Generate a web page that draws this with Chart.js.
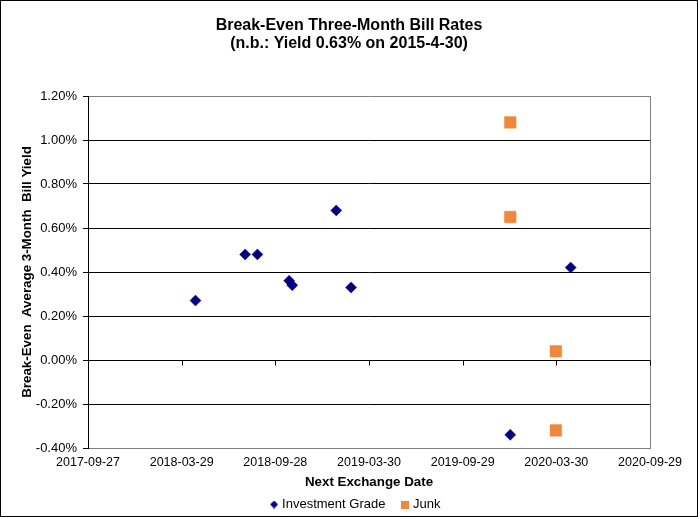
<!DOCTYPE html>
<html>
<head>
<meta charset="utf-8">
<script src="https://cdn.jsdelivr.net/npm/chart.js@4.4.1/dist/chart.umd.min.js"></script>
<style>
  html, body { margin: 0; padding: 0; background: #fff; }
  #chart { position: absolute; left: 0; top: 0; display: block; }
  #frame { position: absolute; left: 0; top: 0; width: 698px; height: 517px;
           box-sizing: border-box; border: 1px solid #000; pointer-events: none; }
</style>
</head>
<body>
<canvas id="chart" width="698" height="517"></canvas>
<div id="frame"></div>
<script>
/* ---------- DATA ---------- */
const firstTickDate = "2017-09-27";
const tickStepDays = 183;
const tickSteps = 6;

const investDates = ["2018-04-25", "2018-07-31", "2018-08-24", "2018-10-25", "2018-10-31",
                     "2019-01-25", "2019-02-23", "2019-12-31", "2020-04-27"];
const investYields = [0.27, 0.48, 0.48, 0.36, 0.34, 0.68, 0.33, -0.34, 0.42];

const junkDates = ["2019-12-31", "2019-12-31", "2020-03-29", "2020-03-29"];
const junkYields = [1.08, 0.65, 0.04, -0.32];

const yMin = -0.4;
const yMax = 1.2;
const yStep = 0.2;

const titleLines = ["Break-Even Three-Month Bill Rates", "(n.b.: Yield 0.63% on 2015-4-30)"];
const seriesNames = ["Investment Grade", "Junk"];

/* ---------- HELPERS ---------- */
const DAY = 86400000;
const baseTime = Date.parse(firstTickDate);
const toDays = d => Math.round((Date.parse(d) - baseTime) / DAY);
const fmtDay = v => new Date(baseTime + v * DAY).toISOString().slice(0, 10);

const navy = "#000080";
const orange = "#F0883A";
const font = "'Liberation Sans', Arial, sans-serif";

// legend markers: wide transparent canvas with the marker on its right side
function legendMarker(shape, size, color) {
  const c = document.createElement("canvas");
  c.width = 23; c.height = size;
  const g = c.getContext("2d");
  g.fillStyle = color;
  const x0 = c.width - size;
  if (shape === "diamond") {
    g.beginPath();
    g.moveTo(x0 + size / 2, 0);
    g.lineTo(x0 + size, size / 2);
    g.lineTo(x0 + size / 2, size);
    g.lineTo(x0, size / 2);
    g.closePath();
    g.fill();
  } else {
    g.fillRect(x0, 0, size, size);
  }
  return c;
}
const legendMarkers = [legendMarker("diamond", 8, navy), legendMarker("square", 8, orange)];

/* ---------- PLUGINS ---------- */
// small tick marks hanging under the 0% line, Excel style
const zeroLineTicks = {
  id: "zeroLineTicks",
  beforeDatasetsDraw(chart) {
    const { ctx, scales: { x, y } } = chart;
    const y0 = Math.round(y.getPixelForValue(0)) + 0.5;
    ctx.save();
    ctx.strokeStyle = "#000";
    ctx.lineWidth = 1;
    x.ticks.forEach(t => {
      const px = Math.round(x.getPixelForValue(t.value)) + 0.5;
      ctx.beginPath();
      ctx.moveTo(px, y0);
      ctx.lineTo(px, y0 + 5);
      ctx.stroke();
    });
    ctx.restore();
  }
};

// nudge the legend a few pixels lower, closer to the frame
const legendNudge = {
  id: "legendNudge",
  afterLayout(chart) {
    if (chart.legend) {
      chart.legend.top += 4;
      chart.legend.bottom += 4;
    }
  }
};

/* ---------- CHART ---------- */
const isEdge = v => Math.abs(v - yMax) < 1e-6 || Math.abs(v - yMin) < 1e-6;

new Chart(document.getElementById("chart"), {
  type: "scatter",
  data: {
    datasets: [
      {
        label: seriesNames[0],
        data: investDates.map((d, i) => ({ x: toDays(d), y: investYields[i] })),
        pointStyle: "rectRot",
        pointRadius: 5.5,
        pointBackgroundColor: navy,
        pointBorderColor: navy,
        pointBorderWidth: 0.5
      },
      {
        label: seriesNames[1],
        data: junkDates.map((d, i) => ({ x: toDays(d), y: junkYields[i] })),
        pointStyle: "rect",
        pointRadius: 8.2,
        pointBackgroundColor: orange,
        pointBorderColor: orange,
        pointBorderWidth: 0.5
      }
    ]
  },
  options: {
    responsive: false,
    animation: false,
    events: [],
    devicePixelRatio: 1,
    layout: { padding: 0 },
    plugins: {
      title: {
        display: true,
        text: titleLines,
        color: "#000",
        font: { family: font, size: 16, weight: "bold", lineHeight: 1.125 },
        padding: { top: 17, bottom: 43 }
      },
      legend: {
        position: "bottom",
        labels: {
          usePointStyle: true,
          pointStyleWidth: 18,
          padding: 3,
          color: "#000",
          font: { family: font, size: 13 },
          generateLabels(chart) {
            return chart.data.datasets.map((ds, i) => ({
              text: ds.label,
              pointStyle: legendMarkers[i],
              fillStyle: ds.pointBackgroundColor,
              strokeStyle: ds.pointBorderColor,
              lineWidth: 0,
              hidden: false,
              datasetIndex: i,
              fontColor: "#000"
            }));
          }
        }
      },
      tooltip: { enabled: false }
    },
    scales: {
      x: {
        type: "linear",
        position: "bottom",
        min: 0,
        max: tickStepDays * tickSteps,
        afterFit: s => { s.height = 43; },
        ticks: {
          stepSize: tickStepDays,
          padding: 7,
          color: "#000",
          font: { family: font, size: 12.5 },
          maxRotation: 0,
          autoSkip: false,
          callback: v => fmtDay(v)
        },
        grid: { display: false, drawTicks: false },
        border: { display: true, color: "#808080", width: 1 },
        title: {
          display: true,
          text: "Next Exchange Date",
          color: "#000",
          font: { family: font, size: 13.33, weight: "bold", lineHeight: 1.2 },
          padding: { top: 0, bottom: 1 }
        }
      },
      y: {
        position: "left",
        min: yMin,
        max: yMax,
        afterFit: s => { s.width = 88; },
        ticks: {
          stepSize: yStep,
          padding: 6,
          color: "#000",
          font: { family: font, size: 13 },
          callback: v => v.toFixed(2) + "%"
        },
        grid: {
          color: c => (c.tick && isEdge(c.tick.value)) ? "#808080" : "#000",
          tickColor: "#000",
          tickLength: 5,
          lineWidth: 1
        },
        border: { display: true, color: "#000", width: 1 },
        title: {
          display: true,
          text: "Break-Even  Average 3-Month  Bill Yield",
          color: "#000",
          font: { family: font, size: 13.33, weight: "bold", lineHeight: 1.2 },
          padding: { top: 19, bottom: 0 }
        }
      },
      yRight: {
        position: "right",
        display: true,
        afterFit: s => { s.width = 48; },
        ticks: { display: false },
        grid: { display: false, drawTicks: false },
        border: { display: true, color: "#808080", width: 1 }
      }
    }
  },
  plugins: [zeroLineTicks, legendNudge]
});
</script>
</body>
</html>
